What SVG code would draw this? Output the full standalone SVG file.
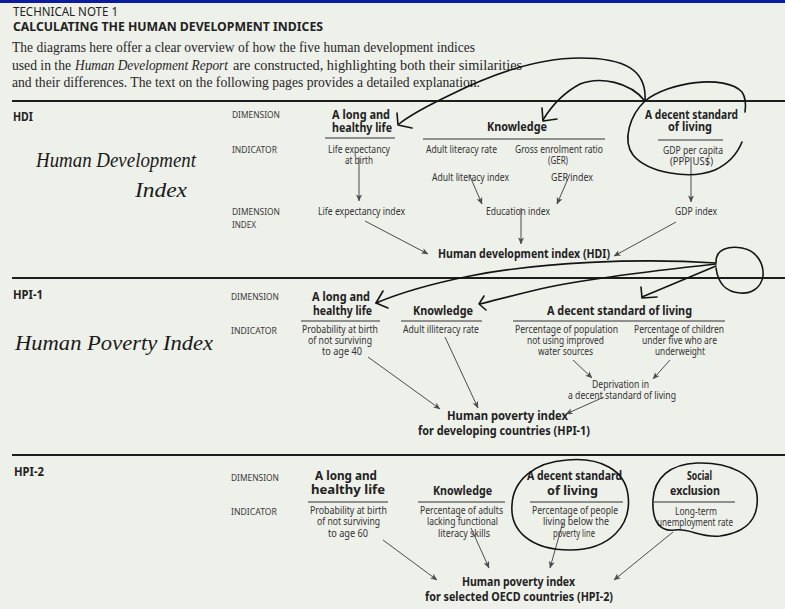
<svg xmlns="http://www.w3.org/2000/svg" width="785" height="609" viewBox="0 0 785 609">
  <defs>
    <style>
      .sans { font-family: "Noto Sans", "Open Sans", "Liberation Sans", sans-serif; fill: #222; }
      .serif { font-family: "Liberation Serif", "DejaVu Serif", serif; fill: #262626; font-size: 14px; }
      .kicker { font-size: 12.5px; }
      .title { font-size: 13px; font-weight: bold; }
      .sec { font-size: 12px; font-weight: bold; }
      .row { font-size: 9.5px; fill: #3a3a3a; }
      .dim { font-size: 12.5px; font-weight: bold; }
      .ind { font-size: 10px; fill: #333; }
      .idx { font-size: 10.5px; fill: #333; }
      .res { font-size: 12.5px; font-weight: bold; }
      .hand { font-family: "Liberation Serif", "DejaVu Serif", serif; font-style: italic; font-size: 21px; fill: #1a1a1a; }
      .rule { stroke: #1e1e1e; stroke-width: 1.8; }
      .ul { stroke: #333; stroke-width: 1; }
      .conn { stroke: #4d4d4d; stroke-width: 1; fill: none; marker-end: url(#ah); }
      .ink { stroke: #141414; stroke-width: 1.6; fill: none; stroke-linecap: round; stroke-linejoin: round; }
    </style>
    <marker id="ah" viewBox="0 0 8 8" refX="7.5" refY="4" markerWidth="7" markerHeight="7" markerUnits="userSpaceOnUse" orient="auto">
      <path d="M0,0.6 L8,4 L0,7.4 L2,4 z" fill="#4d4d4d"/>
    </marker>
  </defs>

  <!-- paper -->
  <rect x="0" y="0" width="785" height="609" fill="#eef0ea"/>
  <rect x="0" y="0" width="785" height="3" fill="#0d1c9e"/>

  <!-- heading and intro -->
  <g id="header">
    <text class="sans kicker" x="13" y="16" textLength="105" lengthAdjust="spacingAndGlyphs">TECHNICAL NOTE 1</text>
    <text class="sans title" x="13" y="31" textLength="310" lengthAdjust="spacingAndGlyphs">CALCULATING THE HUMAN DEVELOPMENT INDICES</text>
    <text class="serif" x="12" y="52" textLength="463" lengthAdjust="spacingAndGlyphs">The diagrams here offer a clear overview of how the five human development indices</text>
    <text class="serif" x="12" y="70" textLength="59" lengthAdjust="spacingAndGlyphs">used in the</text>
    <text class="serif" x="75" y="70" font-style="italic" textLength="153" lengthAdjust="spacingAndGlyphs">Human Development Report</text>
    <text class="serif" x="233" y="70" textLength="289" lengthAdjust="spacingAndGlyphs">are constructed, highlighting both their similarities</text>
    <text class="serif" x="12" y="87" textLength="468" lengthAdjust="spacingAndGlyphs">and their differences. The text on the following pages provides a detailed explanation.</text>
  </g>

  <!-- section rules -->
  <line class="rule" x1="12" y1="101" x2="785" y2="101"/>
  <line class="rule" x1="12" y1="278" x2="785" y2="278"/>
  <line class="rule" x1="12" y1="455" x2="785" y2="455"/>

  <!-- ===== HDI ===== -->
  <g id="hdi-labels">
    <text class="sans sec" x="13" y="121" textLength="20" lengthAdjust="spacingAndGlyphs">HDI</text>
    <text class="sans row" x="232" y="118" textLength="48" lengthAdjust="spacingAndGlyphs">DIMENSION</text>
    <text class="sans row" x="232" y="153" textLength="45" lengthAdjust="spacingAndGlyphs">INDICATOR</text>
    <text class="sans row" x="232" y="215" textLength="48" lengthAdjust="spacingAndGlyphs">DIMENSION</text>
    <text class="sans row" x="232" y="228" textLength="24" lengthAdjust="spacingAndGlyphs">INDEX</text>
  </g>

  <g id="hdi-life">
    <text class="sans dim" x="332" y="119" textLength="58" lengthAdjust="spacingAndGlyphs">A long and</text>
    <text class="sans dim" x="332" y="132" textLength="60" lengthAdjust="spacingAndGlyphs">healthy life</text>
    <line class="ul" x1="325" y1="138" x2="395" y2="138"/>
    <text class="sans ind" x="328" y="153" textLength="62" lengthAdjust="spacingAndGlyphs">Life expectancy</text>
    <text class="sans ind" x="345" y="164" textLength="28" lengthAdjust="spacingAndGlyphs">at birth</text>
  </g>
  <g id="hdi-life-index">
    <text class="sans idx" x="318" y="215" textLength="87" lengthAdjust="spacingAndGlyphs">Life expectancy index</text>
  </g>

  <g id="hdi-knowledge">
    <text class="sans dim" x="487" y="131" textLength="60" lengthAdjust="spacingAndGlyphs">Knowledge</text>
    <line class="ul" x1="423" y1="139" x2="605" y2="139"/>
    <text class="sans ind" x="426" y="153" textLength="71" lengthAdjust="spacingAndGlyphs">Adult literacy rate</text>
    <text class="sans ind" x="515" y="153" textLength="88" lengthAdjust="spacingAndGlyphs">Gross enrolment ratio</text>
    <text class="sans ind" x="548" y="164" textLength="20" lengthAdjust="spacingAndGlyphs">(GER)</text>
  </g>
  <g id="hdi-adult-literacy-index">
    <text class="sans ind" x="432" y="181" textLength="77" lengthAdjust="spacingAndGlyphs">Adult literacy index</text>
  </g>
  <g id="hdi-ger-index">
    <text class="sans ind" x="551" y="181" textLength="42" lengthAdjust="spacingAndGlyphs">GER index</text>
  </g>
  <g id="hdi-education-index">
    <text class="sans idx" x="486" y="215" textLength="64" lengthAdjust="spacingAndGlyphs">Education index</text>
  </g>

  <g id="hdi-living">
    <text class="sans dim" x="645" y="119" textLength="93" lengthAdjust="spacingAndGlyphs">A decent standard</text>
    <text class="sans dim" x="668" y="131" textLength="44" lengthAdjust="spacingAndGlyphs">of living</text>
    <line class="ul" x1="658" y1="140" x2="723" y2="140"/>
    <text class="sans ind" x="663" y="154" textLength="60" lengthAdjust="spacingAndGlyphs">GDP per capita</text>
    <text class="sans ind" x="670" y="165" textLength="43" lengthAdjust="spacingAndGlyphs">(PPP US$)</text>
  </g>
  <g id="hdi-gdp-index">
    <text class="sans idx" x="675" y="215" textLength="42" lengthAdjust="spacingAndGlyphs">GDP index</text>
  </g>

  <g id="hdi-result">
    <text class="sans res" x="438" y="258" textLength="172" lengthAdjust="spacingAndGlyphs">Human development index (HDI)</text>
  </g>

  <!-- ===== HPI-1 ===== -->
  <g id="hpi1-labels">
    <text class="sans sec" x="13" y="299" textLength="30" lengthAdjust="spacingAndGlyphs">HPI-1</text>
    <text class="sans row" x="231" y="300" textLength="48" lengthAdjust="spacingAndGlyphs">DIMENSION</text>
    <text class="sans row" x="231" y="334" textLength="46" lengthAdjust="spacingAndGlyphs">INDICATOR</text>
  </g>

  <g id="hpi1-life">
    <text class="sans dim" x="312" y="301" textLength="58" lengthAdjust="spacingAndGlyphs">A long and</text>
    <text class="sans dim" x="313" y="315" textLength="59" lengthAdjust="spacingAndGlyphs">healthy life</text>
    <line class="ul" x1="301" y1="321" x2="380" y2="321"/>
    <text class="sans ind" x="302" y="333" textLength="76" lengthAdjust="spacingAndGlyphs">Probability at birth</text>
    <text class="sans ind" x="308" y="344" textLength="64" lengthAdjust="spacingAndGlyphs">of not surviving</text>
    <text class="sans ind" x="322" y="355" textLength="40" lengthAdjust="spacingAndGlyphs">to age 40</text>
  </g>

  <g id="hpi1-knowledge">
    <text class="sans dim" x="413" y="315" textLength="60" lengthAdjust="spacingAndGlyphs">Knowledge</text>
    <line class="ul" x1="401" y1="321" x2="482" y2="321"/>
    <text class="sans ind" x="403" y="333" textLength="76" lengthAdjust="spacingAndGlyphs">Adult illiteracy rate</text>
  </g>

  <g id="hpi1-living">
    <text class="sans dim" x="547" y="315" textLength="145" lengthAdjust="spacingAndGlyphs">A decent standard of living</text>
    <line class="ul" x1="513" y1="321" x2="725" y2="321"/>
    <text class="sans ind" x="515" y="333" textLength="103" lengthAdjust="spacingAndGlyphs">Percentage of population</text>
    <text class="sans ind" x="527" y="344" textLength="77" lengthAdjust="spacingAndGlyphs">not using improved</text>
    <text class="sans ind" x="538" y="355" textLength="55" lengthAdjust="spacingAndGlyphs">water sources</text>
    <text class="sans ind" x="634" y="333" textLength="90" lengthAdjust="spacingAndGlyphs">Percentage of children</text>
    <text class="sans ind" x="642" y="344" textLength="75" lengthAdjust="spacingAndGlyphs">under five who are</text>
    <text class="sans ind" x="655" y="355" textLength="50" lengthAdjust="spacingAndGlyphs">underweight</text>
  </g>
  <g id="hpi1-deprivation">
    <text class="sans ind" x="592" y="388" textLength="57" lengthAdjust="spacingAndGlyphs">Deprivation in</text>
    <text class="sans ind" x="568" y="399" textLength="108" lengthAdjust="spacingAndGlyphs">a decent standard of living</text>
  </g>

  <g id="hpi1-result">
    <text class="sans res" x="447" y="420" textLength="121" lengthAdjust="spacingAndGlyphs">Human poverty index</text>
    <text class="sans res" x="418" y="435" textLength="172" lengthAdjust="spacingAndGlyphs">for developing countries (HPI-1)</text>
  </g>

  <!-- ===== HPI-2 ===== -->
  <g id="hpi2-labels">
    <text class="sans sec" x="14" y="476" textLength="30" lengthAdjust="spacingAndGlyphs">HPI-2</text>
    <text class="sans row" x="231" y="481" textLength="48" lengthAdjust="spacingAndGlyphs">DIMENSION</text>
    <text class="sans row" x="231" y="515" textLength="46" lengthAdjust="spacingAndGlyphs">INDICATOR</text>
  </g>

  <g id="hpi2-life">
    <text class="sans dim" x="315" y="480" textLength="62" lengthAdjust="spacingAndGlyphs">A long and</text>
    <text class="sans dim" x="311" y="494" textLength="74" lengthAdjust="spacingAndGlyphs">healthy life</text>
    <line class="ul" x1="308" y1="502" x2="388" y2="502"/>
    <text class="sans ind" x="310" y="514" textLength="77" lengthAdjust="spacingAndGlyphs">Probability at birth</text>
    <text class="sans ind" x="317" y="525" textLength="63" lengthAdjust="spacingAndGlyphs">of not surviving</text>
    <text class="sans ind" x="328" y="537" textLength="40" lengthAdjust="spacingAndGlyphs">to age 60</text>
  </g>

  <g id="hpi2-knowledge">
    <text class="sans dim" x="433" y="495" textLength="59" lengthAdjust="spacingAndGlyphs">Knowledge</text>
    <line class="ul" x1="418" y1="502" x2="505" y2="502"/>
    <text class="sans ind" x="420" y="514" textLength="83" lengthAdjust="spacingAndGlyphs">Percentage of adults</text>
    <text class="sans ind" x="427" y="525" textLength="71" lengthAdjust="spacingAndGlyphs">lacking functional</text>
    <text class="sans ind" x="438" y="537" textLength="52" lengthAdjust="spacingAndGlyphs">literacy skills</text>
  </g>

  <g id="hpi2-living">
    <text class="sans dim" x="527" y="480" textLength="95" lengthAdjust="spacingAndGlyphs">A decent standard</text>
    <text class="sans dim" x="547" y="495" textLength="51" lengthAdjust="spacingAndGlyphs">of living</text>
    <line class="ul" x1="530" y1="502" x2="623" y2="502"/>
    <text class="sans ind" x="532" y="514" textLength="86" lengthAdjust="spacingAndGlyphs">Percentage of people</text>
    <text class="sans ind" x="543" y="525" textLength="66" lengthAdjust="spacingAndGlyphs">living below the</text>
    <text class="sans ind" x="553" y="537" textLength="42" lengthAdjust="spacingAndGlyphs">poverty line</text>
  </g>

  <g id="hpi2-social">
    <text class="sans dim" x="687" y="480" textLength="25" lengthAdjust="spacingAndGlyphs">Social</text>
    <text class="sans dim" x="670" y="495" textLength="50" lengthAdjust="spacingAndGlyphs">exclusion</text>
    <line class="ul" x1="654" y1="502" x2="735" y2="502"/>
    <text class="sans ind" x="675" y="515" textLength="42" lengthAdjust="spacingAndGlyphs">Long-term</text>
    <text class="sans ind" x="657" y="526" textLength="76" lengthAdjust="spacingAndGlyphs">unemployment rate</text>
  </g>

  <g id="hpi2-result">
    <text class="sans res" x="462" y="586" textLength="113" lengthAdjust="spacingAndGlyphs">Human poverty index</text>
    <text class="sans res" x="425" y="601" textLength="188" lengthAdjust="spacingAndGlyphs">for selected OECD countries (HPI-2)</text>
  </g>

  <!-- printed connectors -->
  <g id="connectors">
    <line class="conn" x1="359" y1="157" x2="359" y2="201"/>
    <line class="conn" x1="469" y1="174" x2="482" y2="204"/>
    <line class="conn" x1="570" y1="174" x2="557" y2="204"/>
    <line class="conn" x1="521" y1="208" x2="521" y2="244"/>
    <line class="conn" x1="691" y1="157" x2="691" y2="202"/>
    <line class="conn" x1="365" y1="221" x2="428" y2="254"/>
    <line class="conn" x1="676" y1="222" x2="614" y2="256"/>

    <line class="conn" x1="368" y1="357" x2="440" y2="409"/>
    <line class="conn" x1="445" y1="337" x2="478" y2="408"/>
    <line class="conn" x1="573" y1="360" x2="592" y2="378"/>
    <line class="conn" x1="670" y1="360" x2="653" y2="379"/>
    <line class="conn" x1="604" y1="397" x2="566" y2="414"/>

    <line class="conn" x1="383" y1="540" x2="437" y2="580"/>
    <line class="conn" x1="471" y1="528" x2="489" y2="568"/>
    <line class="conn" x1="563" y1="522" x2="550" y2="568"/>
    <line class="conn" x1="673" y1="532" x2="614" y2="580"/>
  </g>

  <!-- pen notes -->
  <g id="pen-notes">
    <text class="hand" x="36" y="167" textLength="160" lengthAdjust="spacingAndGlyphs">Human Development</text>
    <text class="hand" x="135" y="197" textLength="52" lengthAdjust="spacingAndGlyphs">Index</text>
    <text class="hand" x="15" y="350" textLength="198" lengthAdjust="spacingAndGlyphs">Human Poverty Index</text>

    <!-- HDI: living standard loop and its arrows -->
    <path class="ink" d="M645 101 C647 70, 625 58, 580 58 C530 58, 480 80, 450 95 C425 107, 410 115, 399 124"/>
    <path class="ink" d="M397 113 L398 125 L412 128"/>
    <path class="ink" d="M645 101 C630 82, 600 76, 580 84 C565 92, 552 105, 543 120"/>
    <path class="ink" d="M542 108 L543 121 L557 119"/>
    <path class="ink" d="M645 101 C668 82, 725 74, 742 92 C746 98, 746 105, 745 112"/>
    <path class="ink" d="M645 101 C630 115, 622 140, 633 155 C648 173, 690 180, 715 170 C730 163, 738 152, 742 142"/>

    <!-- HPI-1: ring and its arrows -->
    <path class="ink" d="M716 262 C716 248, 730 246, 742 248 C758 251, 764 265, 763 276 C761 289, 750 294, 740 293 C726 292, 718 283, 716 268"/>
    <path class="ink" d="M716 263 C640 258, 540 262, 470 276 C430 284, 395 295, 376 303"/>
    <path class="ink" d="M383 291 L376 303 L388 308"/>
    <path class="ink" d="M716 264 C660 270, 580 280, 540 289 C515 295, 495 300, 480 304"/>
    <path class="ink" d="M484 296 L479 304 L486 310"/>
    <path class="ink" d="M716 266 L642 297"/>
    <path class="ink" d="M641 287 L642 298 L657 297"/>

    <!-- HPI-2: rings -->
    <path class="ink" d="M567 460 C600 457, 625 470, 628 495 C632 525, 610 550, 570 550 C530 550, 510 530, 512 505 C513 480, 535 462, 567 460"/>
    <path class="ink" d="M697 463 C730 462, 755 475, 757 495 C759 515, 750 532, 720 536 C700 538, 690 528, 675 530 C660 532, 652 522, 653 500 C654 478, 670 464, 697 463"/>
  </g>
</svg>
